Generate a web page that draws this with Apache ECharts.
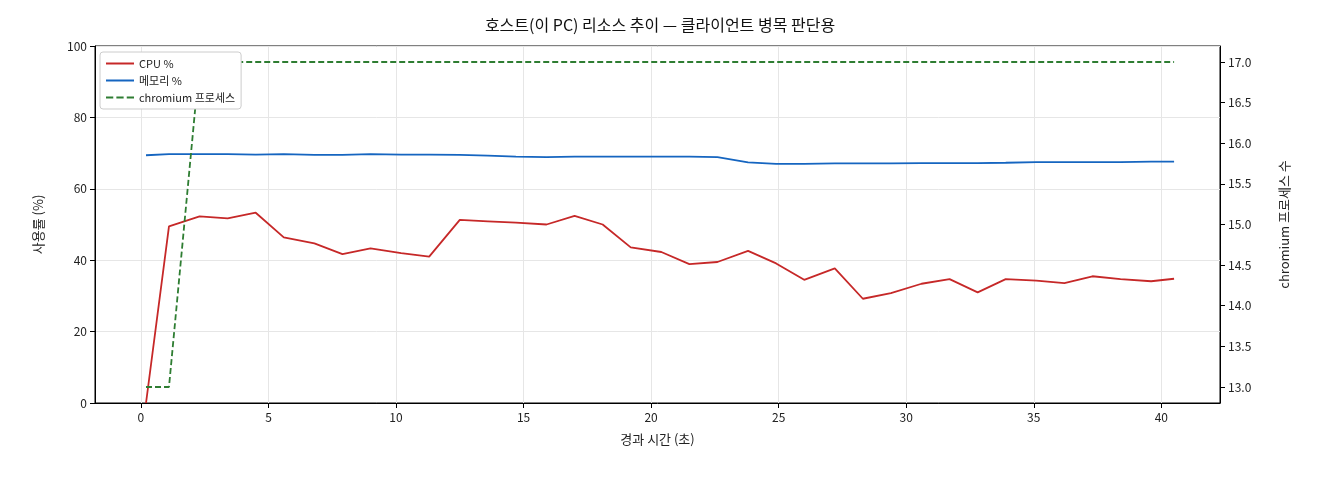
<!DOCTYPE html><html><head><meta charset="utf-8"><script src="https://cdn.jsdelivr.net/npm/echarts@6/dist/echarts.min.js"></script></head><body style="margin:0"><div id="c" style="width:1320px;height:480px"></div><script>
const times=[0.2,1.1,2.3,3.4,4.5,5.6,6.8,7.9,9.0,10.2,11.3,12.5,13.6,14.7,15.9,17.0,18.1,19.2,20.4,21.5,22.6,23.8,24.9,26.0,27.2,28.3,29.4,30.6,31.7,32.8,33.9,35.1,36.2,37.3,38.4,39.6,40.5];
const cpu=[0,49.5,52.3,51.7,53.3,46.4,44.7,41.7,43.3,42,41,51.3,50.9,50.5,50,52.4,50,43.6,42.3,38.9,39.5,42.6,39.1,34.5,37.7,29.2,30.8,33.4,34.7,31,34.7,34.3,33.6,35.5,34.7,34.1,34.8];
const mem=[69.4,69.7,69.7,69.7,69.6,69.7,69.5,69.5,69.7,69.6,69.6,69.5,69.3,69.0,68.9,69.0,69.0,69.0,69.0,69.0,68.9,67.4,67.0,67.0,67.1,67.1,67.1,67.2,67.2,67.2,67.3,67.5,67.5,67.5,67.5,67.6,67.6];
const procs=[13,13,17,17,17,17,17,17,17,17,17,17,17,17,17,17,17,17,17,17,17,17,17,17,17,17,17,17,17,17,17,17,17,17,17,17,17];
const rightTicks=[13,13.5,14,14.5,15,15.5,16,16.5,17];
const xTicks=[0,5,10,15,20,25,30,35,40];
const z=(a)=>times.map((t,i)=>[t,a[i]]);
const f='"Noto Sans CJK KR", sans-serif';
const c=echarts.init(document.getElementById('c'));
c.setOption({
 animation:false,textStyle:{fontFamily:f},
 title:{text:'호스트(이 PC) 리소스 추이 — 클라이언트 병목 판단용',left:'center',top:12,textStyle:{fontSize:16,fontWeight:'normal',color:'#111',fontFamily:f}},
 grid:{left:95,right:100,top:46,bottom:77,show:true,borderColor:'#000',borderWidth:1},
 legend:{left:100,top:52,orient:'vertical',itemGap:6,itemWidth:28,itemHeight:10,backgroundColor:'#fff',borderColor:'#ccc',borderWidth:1,borderRadius:3,padding:[6,6],textStyle:{fontSize:11,color:'#222'},
  data:[{name:'CPU %',icon:'path://M0,4H28V6H0Z'},{name:'메모리 %',icon:'path://M0,4H28V6H0Z'},{name:'chromium 프로세스',icon:'path://M0,4H7V6H0ZM10,4H17V6H10ZM20,4H27V6H20Z'}]},
 xAxis:{type:'value',min:-1.8,max:42.3,name:'경과 시간 (초)',nameLocation:'middle',nameGap:30,nameTextStyle:{fontSize:13,color:'#222'},
  axisLine:{onZero:false,lineStyle:{color:'#000'}},axisTick:{customValues:xTicks},axisLabel:{customValues:xTicks,fontSize:12,color:'#222'},
  splitLine:{show:true,lineStyle:{color:'#e6e6e6'}}},
 yAxis:[{type:'value',min:0,max:100,interval:20,name:'사용률 (%)',nameLocation:'middle',nameGap:50,nameTextStyle:{fontSize:13,color:'#222'},
  axisLine:{show:true,onZero:false,lineStyle:{color:'#000'}},axisTick:{show:true},axisLabel:{fontSize:12,color:'#222'},splitLine:{lineStyle:{color:'#e6e6e6'}}},
  {type:'value',min:12.803,max:17.197,position:'right',name:'chromium 프로세스 수',nameLocation:'middle',nameGap:58,nameRotate:90,nameTextStyle:{fontSize:13,color:'#222'},
  axisLine:{show:true,onZero:false,lineStyle:{color:'#000'}},axisTick:{show:true,customValues:rightTicks},axisLabel:{customValues:rightTicks,formatter:v=>v.toFixed(1),fontSize:12,color:'#222'},splitLine:{show:false}}],
 series:[
  {name:'CPU %',type:'line',data:z(cpu),showSymbol:false,lineStyle:{color:'#c62828',width:1.8},itemStyle:{color:'#c62828'}},
  {name:'메모리 %',type:'line',data:z(mem),showSymbol:false,lineStyle:{color:'#1565c0',width:1.8},itemStyle:{color:'#1565c0'}},
  {name:'chromium 프로세스',type:'line',yAxisIndex:1,data:z(procs),showSymbol:false,lineStyle:{color:'#2e7d32',width:1.8,type:[6,3]},itemStyle:{color:'#2e7d32'}}
 ]});
</script></body></html>
